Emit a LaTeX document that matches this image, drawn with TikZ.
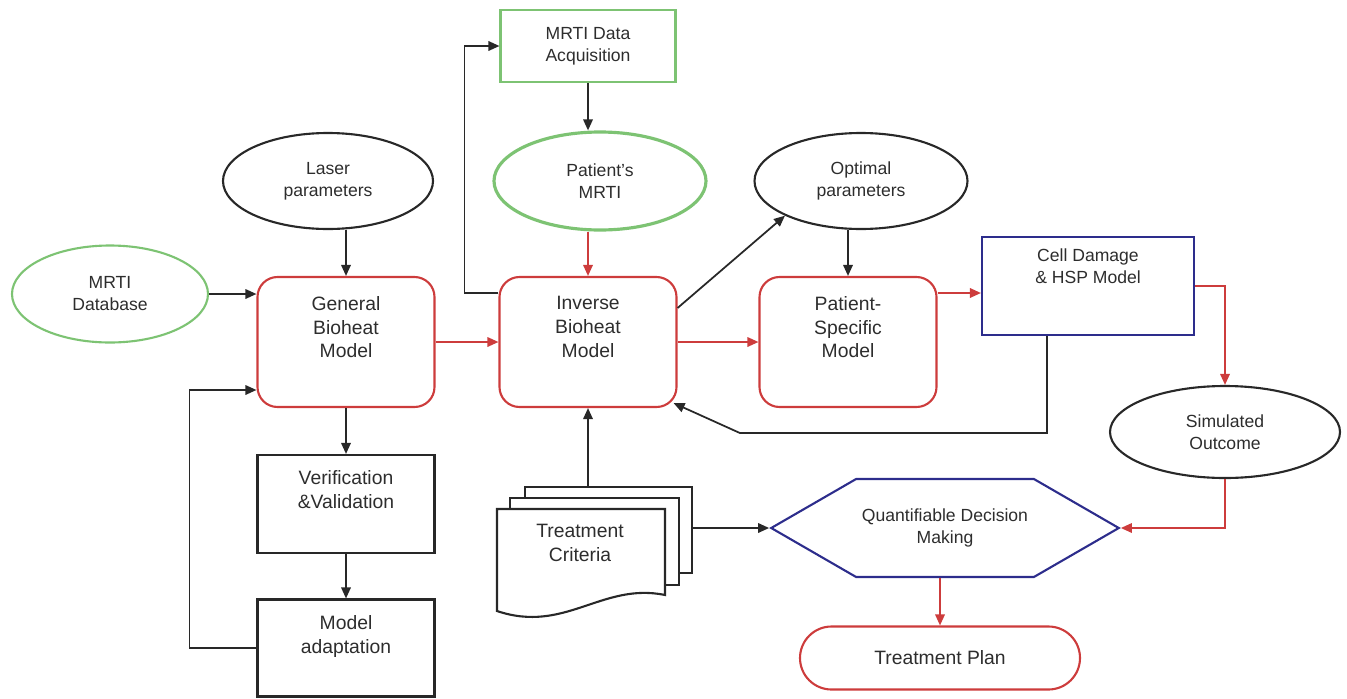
\documentclass[tikz,border=0pt]{standalone}
\usepackage{fontspec}
\setmainfont{Liberation Sans}
\usetikzlibrary{shapes.geometric,shapes.symbols,arrows.meta}

\definecolor{boxgreen}{RGB}{125,195,115}
\definecolor{boxred}{RGB}{205,60,60}
\definecolor{boxblue}{RGB}{45,45,140}
\definecolor{linegray}{RGB}{40,40,40}
\definecolor{textgray}{RGB}{45,45,45}

\tikzset{
  base/.style={draw=linegray, line width=1.2pt, align=center, text=textgray,
    font=\fontsize{10}{12.5}\selectfont},
  oval/.style={base, ellipse, inner sep=0pt},
  model/.style={base, draw=boxred, rounded corners=0.4cm, minimum width=3.54cm,
    minimum height=2.6cm, text depth=0.6cm, font=\fontsize{11}{13.5}\selectfont},
  plainbox/.style={base, minimum width=3.54cm, minimum height=1.96cm,
    text depth=0.58cm, font=\fontsize{11}{13.5}\selectfont},
  docbox/.style={base, fill=white},
  arr/.style={draw=linegray, line width=1pt, -{Triangle[length=2.2mm,width=1.9mm]}},
  rarr/.style={arr, draw=boxred}
}

\begin{document}
\begin{tikzpicture}[x=0.2mm, y=-0.2mm]
\useasboundingbox (0,0) rectangle (1347,698);

% top row
\node[base, draw=boxgreen, minimum width=3.5cm, minimum height=1.44cm] (acq) at (588,46) {MRTI Data\\Acquisition};
\node[oval, minimum width=4.2cm, minimum height=1.92cm] (laser) at (328,181) {Laser\\parameters};
\node[oval, draw=boxgreen, line width=1.8pt, minimum width=4.24cm, minimum height=1.96cm] (pmrti) at (600,181) {Patient’s\\MRTI};
\node[oval, minimum width=4.26cm, minimum height=1.92cm] (optp) at (861,181) {Optimal\\parameters};
\node[oval, draw=boxgreen, minimum width=3.92cm, minimum height=1.94cm] (mdb) at (110,294) {MRTI\\Database};

% models
\node[model] (general) at (346,342) {General\\Bioheat\\Model};
\node[model] (inverse) at (588,342) {Inverse\\Bioheat\\Model};
\node[model] (psm) at (848,342) {Patient-\\Specific\\Model};
\node[base, draw=boxblue, minimum width=4.24cm, minimum height=1.96cm, text depth=0.8cm] (cell) at (1088,286) {Cell Damage\\\& HSP Model};
\node[oval, minimum width=4.6cm, minimum height=1.84cm] (sim) at (1225,432) {Simulated\\Outcome};

% left column
\node[plainbox] (vv) at (346,504) {Verification\\\&Validation};
\node[plainbox, minimum height=1.94cm, text depth=0.55cm] (ma) at (346,648) {Model\\adaptation};

% treatment criteria (stack of documents)
\node[docbox, minimum width=3.34cm, minimum height=1.72cm] (crit3) at (608.5,530) {};
\node[docbox, minimum width=3.38cm, minimum height=1.74cm] (crit2) at (594.5,541.5) {};
\draw[draw=linegray, line width=1.2pt, fill=white] (497,509) -- (665,509) -- (665,595)
  .. controls (602,582) and (565,634) .. (497,611) -- cycle;
\node[align=center, text=textgray, font=\fontsize{11}{13.5}\selectfont] (crit) at (580,543) {Treatment\\Criteria};

% decision and plan
\node[base, draw=boxblue, signal, signal to=west and east, signal pointer angle=60,
  minimum width=6.7cm, minimum height=1.96cm] (dec) at (945,528) {Quantifiable Decision\\Making};
\node[base, draw=boxred, rounded corners=0.63cm, minimum width=5.6cm, minimum height=1.26cm,
  font=\fontsize{11}{13.5}\selectfont] (plan) at (940,658) {Treatment Plan};

% connectors
\draw[arr] (mdb.east) -- (mdb.east -| general.west);
\draw[arr] (laser.south -| general.north) -- (general.north);
\draw[arr] (acq.south) -- (acq.south |- pmrti.north);
\draw[rarr] (inverse.north |- pmrti.south) -- (inverse.north);
\draw[rarr] (general.east) -- (inverse.west);
\draw[arr] ([yshift=0.98cm]inverse.west) -- ++(-0.68cm,0) |- (acq.west);
\draw[arr] ([yshift=0.68cm]inverse.east) -- (optp.south west);
\draw[arr] (optp.south -| psm.north) -- (psm.north);
\draw[rarr] (inverse.east) -- (psm.west);
\coordinate (pc) at ([yshift=0.98cm]psm.east);
\draw[rarr] (pc) -- (pc -| cell.west);
\draw[rarr] (cell.east) -| (sim.north);
\draw[arr] ([xshift=-0.82cm]cell.south) -- ++(0,-1.94cm) -- ++(-6.14cm,0)
  -- ([shift={(-0.08cm,0.1cm)}]inverse.south east);
\draw[rarr] (sim.south) |- (dec.east);
\draw[arr] (crit3.east |- dec.west) -- (dec.west);
\draw[arr] (inverse.south |- crit3.north) -- (inverse.south);
\draw[rarr] (dec.south -| plan.north) -- (plan.north);
\draw[arr] (general.south) -- (vv.north);
\draw[arr] (vv.south) -- (ma.north);
\coordinate (gin) at ([yshift=-0.96cm]general.west);
\draw[arr] (ma.west) -- ++(-1.34cm,0) |- (gin);
\end{tikzpicture}
\end{document}
